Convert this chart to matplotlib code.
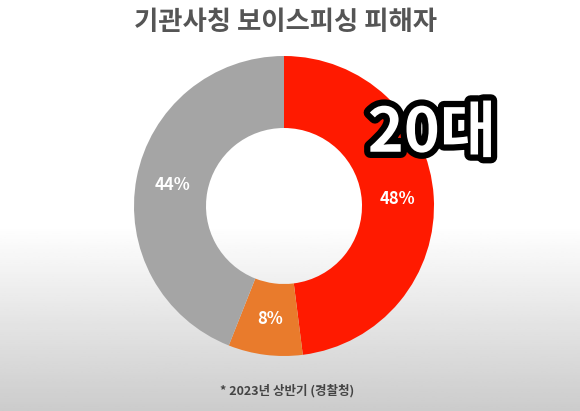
import numpy as np
import matplotlib.pyplot as plt
import matplotlib.patheffects as pe

plt.rcParams['font.family'] = ['Noto Sans CJK KR', 'DejaVu Sans']

labels = ["20대", "기타1", "기타2"]
values = [48, 8, 44]
colors = ["#FF1A00", "#E97B2C", "#A5A5A5"]
pct_labels = ["48%", "8%", "44%"]

fig = plt.figure(figsize=(5.8, 4.11), dpi=100)

# background gradient (white top -> light gray bottom)
bg = fig.add_axes([0, 0, 1, 1], zorder=-1)
grad = np.ones((200, 1))
rows = np.linspace(0, 1, 200)
grad[:, 0] = np.where(rows < 0.55, 1.0, 1.0 - (rows - 0.55) / 0.45 * 0.2)
bg.imshow(grad, cmap="gray", vmin=0, vmax=1, aspect="auto", extent=[0, 1, 0, 1])
bg.axis("off")

# donut centre ~ (284, 206), outer radius ~150 px
r_px = 150
cx, cy = 284, 206
w = 2 * r_px / 580
h = 2 * r_px / 411
ax = fig.add_axes([cx / 580 - w / 2, 1 - cy / 411 - h / 2, w, h])
wedges, _ = ax.pie(values, colors=colors, startangle=90, counterclock=False,
                   wedgeprops=dict(width=0.48, edgecolor="none"))
ax.set_xlim(-1, 1)
ax.set_ylim(-1, 1)
ax.set_aspect("equal")

ang = 90
for v, t in zip(values, pct_labels):
    mid = np.deg2rad(ang - v * 3.6 / 2)
    ang -= v * 3.6
    ax.text(0.76 * np.cos(mid), 0.76 * np.sin(mid), t, ha="center", va="center",
            color="white", fontsize=12, fontweight="bold")

fig.text(285 / 580, 1 - 22 / 411, "기관사칭 보이스피싱 피해자", ha="center", va="center",
         fontsize=19, fontweight="bold", color="#555555")

fig.text(432 / 580, 1 - 134 / 411, "20대", ha="center", va="center",
         fontsize=44, fontweight="bold", color="white",
         path_effects=[pe.withStroke(linewidth=9, foreground="black")])

fig.text(287 / 580, 1 - 391 / 411, "* 2023년 상반기 (경찰청)", ha="center", va="center",
         fontsize=9, fontweight="bold", color="#444444")

fig.savefig("out.png", dpi=100)
